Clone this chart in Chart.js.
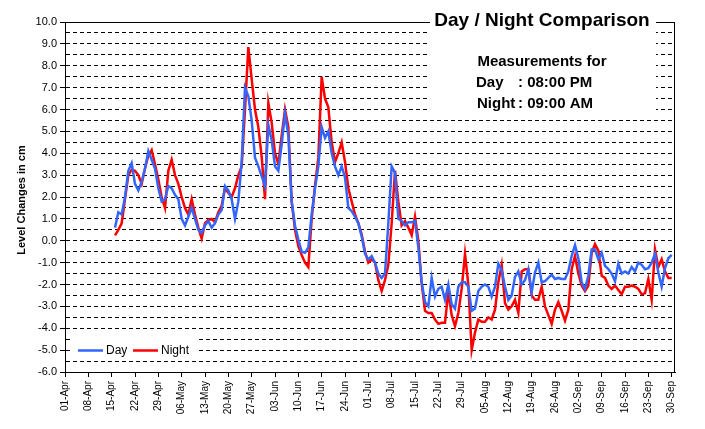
<!DOCTYPE html>
<html>
<head>
<meta charset="utf-8">
<script src="https://cdn.jsdelivr.net/npm/chart.js@4"></script>
<style>
  body { margin: 0; background: #fff; }
</style>
</head>
<body>
<canvas id="chart" width="705" height="429"></canvas>
<script>
// days counted from 01-Apr (day 0); readings start on 16-Apr
let startDay = 15;

let xLabels = ["01-Apr", "08-Apr", "15-Apr", "22-Apr", "29-Apr", "06-May", "13-May", "20-May", "27-May",
  "03-Jun", "10-Jun", "17-Jun", "24-Jun", "01-Jul", "08-Jul", "15-Jul", "22-Jul", "29-Jul",
  "05-Aug", "12-Aug", "19-Aug", "26-Aug", "02-Sep", "09-Sep", "16-Sep", "23-Sep", "30-Sep"];

let dayLevels = [
  0.6, 1.3, 1.2, 2.0, 3.2, 3.55, 2.6, 2.3, 2.7, 3.3,
  4.1, 3.7, 3.3, 2.4, 1.8, 1.9, 2.5, 2.4, 2.1, 1.9,
  1.0, 0.7, 1.1, 1.5, 1.0, 0.5, 0.35, 0.7, 0.9, 0.6,
  0.8, 1.2, 1.4, 2.5, 2.3, 1.9, 1.0, 1.8, 3.6, 7.0,
  6.6, 5.5, 3.8, 3.4, 2.95, 2.5, 5.3, 4.6, 3.4, 3.2,
  4.4, 5.8, 4.8, 1.8, 0.7, 0.05, -0.5, -0.55, -0.3, 1.2,
  2.4, 3.4, 5.2, 4.7, 5.0, 4.0, 3.4, 3.0, 3.4, 2.9,
  1.5, 1.35, 1.1, 0.8, 0.2, -0.6, -0.85, -0.7, -1.0, -1.5,
  -1.7, -1.5, 0.8, 3.4, 3.1, 1.0, 0.9, 0.7, 0.85, 0.85,
  0.9, -0.3, -1.9, -2.8, -3.0, -1.7, -2.55, -2.2, -2.1, -2.7,
  -2.0, -2.9, -3.1, -2.1, -1.9, -1.9, -2.1, -3.2, -3.1, -2.3,
  -2.1, -2.0, -2.1, -2.55, -2.1, -1.05, -1.35, -2.1, -2.7, -2.5,
  -1.65, -1.4, -2.0, -1.8, -1.3, -2.35, -1.45, -1.0, -1.9, -1.85,
  -1.7, -1.55, -1.75, -1.7, -1.75, -1.75, -1.4, -0.7, -0.2, -0.8,
  -1.9, -2.2, -1.6, -0.4, -0.4, -0.85, -0.55, -1.15, -1.3, -1.5,
  -1.85, -1.05, -1.5, -1.4, -1.5, -1.2, -1.4, -1.0, -1.1, -1.3,
  -1.25, -1.0, -0.6, -1.45, -2.1, -1.25, -0.8, -0.65
];

let nightLevels = [
  0.25, 0.5, 0.8, 1.9, 3.0, 3.25, 3.2, 3.0, 2.6, 3.3,
  3.9, 4.15, 3.5, 2.8, 2.0, 1.5, 3.2, 3.7, 3.0, 2.6,
  2.0, 1.5, 1.2, 1.9, 1.2, 0.6, 0.1, 0.8, 0.95, 1.0,
  0.85, 1.3, 1.6, 2.4, 2.2, 2.0, 2.4, 3.0, 3.4, 6.0,
  8.85, 7.4, 6.0, 5.2, 3.85, 1.9, 6.3, 5.4, 4.0, 3.5,
  4.8, 6.0, 5.2, 1.8, 0.5, -0.25, -0.65, -1.0, -1.2, 1.0,
  2.5, 3.8, 7.5, 6.5, 6.1, 4.5, 3.6, 4.0, 4.5, 3.6,
  2.4, 1.8, 1.2, 0.8, 0.3, -0.5, -1.0, -0.85, -1.0, -1.8,
  -2.3, -1.8, -1.1, 0.8, 3.2, 1.8, 0.7, 0.9, 0.6, 0.25,
  1.1, 0.0, -1.95, -3.2, -3.3, -3.3, -3.6, -3.8, -3.75, -3.75,
  -2.3, -3.4, -3.9, -3.3, -2.2, -0.6, -2.0, -5.0, -4.2, -3.6,
  -3.7, -3.7, -3.5, -3.6, -3.15, -1.9, -1.1, -2.85, -3.15, -3.0,
  -2.7, -3.3, -1.4, -1.3, -1.3, -2.5, -2.7, -2.7, -2.1, -3.0,
  -3.4, -3.8, -3.15, -2.8, -3.2, -3.65, -3.15, -1.3, -0.7, -1.5,
  -2.05, -2.3, -2.05, -0.55, -0.15, -0.45, -1.6, -1.7, -2.05, -2.2,
  -2.05, -2.25, -2.45, -2.1, -2.1, -2.05, -2.1, -2.2, -2.45, -2.4,
  -1.75, -2.7, -0.4, -1.2, -0.85, -1.4, -1.7, -1.7
];

let font = "'Liberation Sans', Arial, sans-serif";

function toPoints(values) {
  return values.map((v, i) => ({ x: startDay + i, y: v }));
}

// frame, title box, legend and axis title drawn on top of the chart
let overlay = {
  id: "overlay",
  beforeDraw(c) {
    let ctx = c.ctx;
    ctx.save();
    ctx.fillStyle = "#fff";
    ctx.fillRect(0, 0, c.width, c.height);
    ctx.restore();
  },
  afterDraw(c) {
    let ctx = c.ctx;
    let a = c.chartArea;
    ctx.save();
    ctx.setLineDash([]);
    ctx.strokeStyle = "#000";
    ctx.lineWidth = 1;
    ctx.strokeRect(a.left + 0.5, a.top + 0.5, a.right - a.left - 1, a.bottom - a.top);

    ctx.fillStyle = "#fff";
    ctx.fillRect(430, 0, 226, 114);
    ctx.fillStyle = "#000";
    ctx.textBaseline = "alphabetic";
    ctx.textAlign = "center";
    ctx.font = "bold 19px " + font;
    ctx.fillText("Day / Night Comparison", 542, 26);
    ctx.font = "bold 15px " + font;
    ctx.fillText("Measurements for", 542, 66);
    ctx.textAlign = "left";
    ctx.fillText("Day", 476, 87);
    ctx.fillText(": 08:00 PM", 518, 87);
    ctx.fillText("Night", 477, 108);
    ctx.fillText(": 09:00 AM", 518, 108);

    // legend
    ctx.fillStyle = "#fff";
    ctx.fillRect(72, 332, 126, 26);
    ctx.font = "12px " + font;
    ctx.textBaseline = "middle";
    let items = [[78, 106], [133, 161]];
    c.data.datasets.forEach((ds, i) => {
      ctx.strokeStyle = ds.borderColor;
      ctx.lineWidth = 2.5;
      ctx.beginPath();
      ctx.moveTo(items[i][0], 350.5);
      ctx.lineTo(items[i][0] + 25, 350.5);
      ctx.stroke();
      ctx.fillStyle = "#000";
      ctx.fillText(ds.label, items[i][1], 351);
    });

    ctx.translate(22, 200);
    ctx.rotate(-Math.PI / 2);
    ctx.textAlign = "center";
    ctx.font = "bold 11px " + font;
    ctx.fillText("Level Changes in cm", 0, 0);
    ctx.restore();
  }
};

chart = new Chart(document.getElementById("chart"), {
  type: "line",
  data: {
    datasets: [{
      label: "Day",
      data: toPoints(dayLevels),
      borderColor: "#3366ff",
      borderWidth: 2.5,
      pointRadius: 0,
      tension: 0
    }, {
      label: "Night",
      data: toPoints(nightLevels),
      borderColor: "#ff0000",
      borderWidth: 2.5,
      pointRadius: 0,
      tension: 0
    }]
  },
  options: {
    responsive: false,
    animation: false,
    layout: { padding: { left: 0, right: 30, top: 22, bottom: 0 } },
    plugins: { legend: { display: false }, tooltip: { enabled: false } },
    scales: {
      x: {
        type: "linear",
        min: 0,
        max: 183,
        afterBuildTicks: s => { s.ticks = xLabels.map((_, i) => ({ value: i * 7 })); },
        afterFit: s => { s.height = 57; },
        grid: { drawOnChartArea: false, color: "#000", tickLength: 5, tickColor: "#000" },
        border: { color: "#000" },
        ticks: {
          autoSkip: false,
          maxRotation: 90,
          minRotation: 90,
          padding: 4,
          color: "#000",
          font: { family: font, size: 10 },
          callback: (v, i) => xLabels[i]
        }
      },
      y: {
        min: -6,
        max: 10,
        afterFit: s => { s.width = 65; },
        grid: {
          color: "#000",
          tickLength: 5,
          tickBorderDash: [],
          tickColor: ctx => (ctx.tick && ctx.tick.value % 1 === 0) ? "#000" : "rgba(0,0,0,0)"
        },
        border: { color: "#000", dash: [4, 3] },
        ticks: {
          stepSize: 0.5,
          autoSkip: false,
          padding: 3,
          color: "#000",
          font: { family: font, size: 11 },
          callback: v => v % 1 === 0 ? v.toFixed(1) : ""
        }
      }
    }
  },
  plugins: [overlay]
});
</script>
</body>
</html>
